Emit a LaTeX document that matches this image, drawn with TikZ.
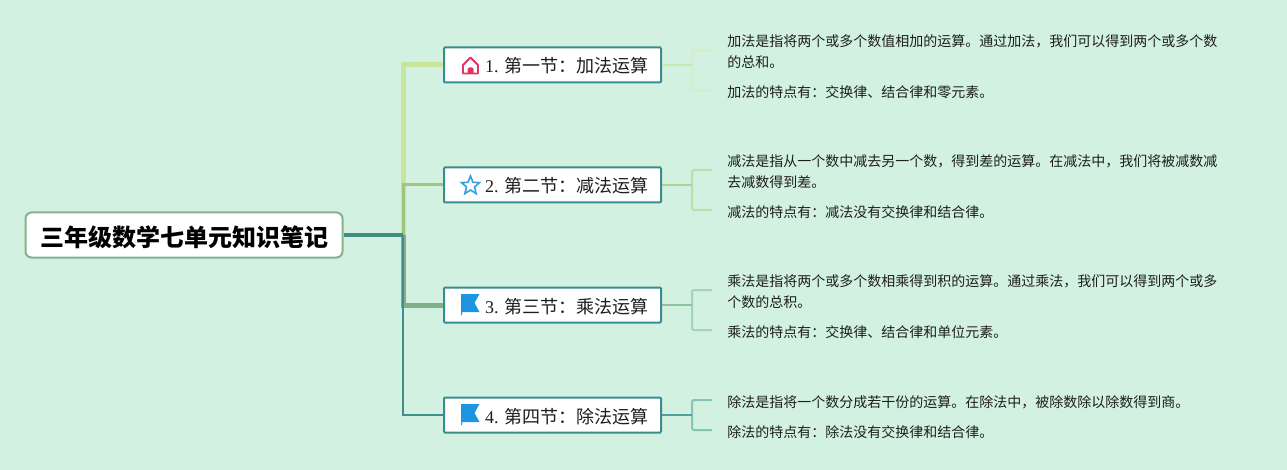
\documentclass[tikz,border=0pt]{standalone}
\usepackage{fontspec}
\setmainfont{Liberation Serif}
\newfontfamily\cjk{Noto Sans CJK SC}
\newdimen\pxu \pxu=0.75pt
\definecolor{bgc}{HTML}{D2F1E1}
\definecolor{ink}{HTML}{1E1E1E}
\definecolor{boxline}{HTML}{3D8C8C}
\definecolor{rootline}{HTML}{85B28B}
\definecolor{tealdark}{HTML}{3F8C80}
\definecolor{bA}{HTML}{C9E49C}
\definecolor{bB}{HTML}{A0C67E}
\definecolor{bC}{HTML}{7FB08A}
\definecolor{bD}{HTML}{3F8F8F}
\definecolor{hA}{HTML}{C9E7AE}
\definecolor{hB}{HTML}{ABD391}
\definecolor{hC}{HTML}{8FC29C}
\definecolor{hD}{HTML}{54A0A0}
\definecolor{sA}{HTML}{D6EEC3}
\definecolor{sB}{HTML}{BCE0A8}
\definecolor{sC}{HTML}{A4D3B5}
\definecolor{sD}{HTML}{85C4B7}
\definecolor{iconred}{HTML}{E0365F}
\definecolor{iconblue}{HTML}{3A9FE0}
\definecolor{flagblue}{HTML}{1C96E0}
\tikzset{
  x=0.75pt,y=-0.75pt,
  rootbox/.style={draw=rootline,line width=2\pxu,fill=white,rounded corners=6\pxu,
    minimum width=317\pxu,minimum height=45\pxu,inner sep=0pt,text=black,
    font=\cjk\bfseries\fontsize{18pt}{24pt}\selectfont},
  secbox/.style={draw=boxline,line width=2\pxu,fill=white,rounded corners=1\pxu,
    minimum height=35\pxu,text width=217\pxu,align=left,inner sep=0pt,text=ink,
    font=\fontsize{13.5pt}{18pt}\selectfont},
  detail/.style={anchor=west,align=left,inner xsep=15\pxu,inner ysep=0pt,text=ink,
    font=\cjk\fontsize{10.5pt}{15.75pt}\selectfont},
  bracket/.style={line width=2\pxu,rounded corners=2\pxu},
  stub/.style={line width=2\pxu},
}
\newcommand{\sectext}[2]{\hspace*{41\pxu}\raisebox{-8\pxu}[0pt][0pt]{#1.\hspace{6\pxu}{\cjk #2}}}
\begin{document}
\begin{tikzpicture}
\fill[bgc] (0,0) rectangle (1287,470);
\useasboundingbox (0,0) rectangle (1287,470);

\node[rootbox] (root) at (184,235) {\raisebox{-11\pxu}[0pt][0pt]{三年级数学七单元知识笔记}};
\node[secbox] (b1) at (552.5,65) {\sectext{1}{第一节：加法运算}};
\node[secbox] (b2) at (552.5,185) {\sectext{2}{第二节：减法运算}};
\node[secbox] (b3) at (552.5,305) {\sectext{3}{第三节：乘法运算}};
\node[secbox] (b4) at (552.5,415) {\sectext{4}{第四节：除法运算}};

\coordinate (trunk) at (403,235);
\draw[bA,line width=5\pxu] (trunk) |- (b1.west);
\draw[bB,line width=3\pxu] (trunk) |- (b2.west);
\draw[bC,line width=5\pxu] (trunk) |- (b3.west);
\draw[bD,line width=2\pxu] (trunk) |- (b4.west);
\draw[tealdark,line width=3.5\pxu] (root.east) -- (trunk);

\node[detail] (d11) at (712,52) {加法是指将两个或多个数值相加的运算。通过加法，我们可以得到两个或多个数\\的总和。};
\node[detail] (d12) at (712,92) {加法的特点有：交换律、结合律和零元素。};
\node[detail] (d21) at (712,172) {减法是指从一个数中减去另一个数，得到差的运算。在减法中，我们将被减数减\\去减数得到差。};
\node[detail] (d22) at (712,212) {减法的特点有：减法没有交换律和结合律。};
\node[detail] (d31) at (712,292) {乘法是指将两个或多个数相乘得到积的运算。通过乘法，我们可以得到两个或多\\个数的总积。};
\node[detail] (d32) at (712,332) {乘法的特点有：交换律、结合律和单位元素。};
\node[detail] (d41) at (712,402) {除法是指将一个数分成若干份的运算。在除法中，被除数除以除数得到商。};
\node[detail] (d42) at (712,432) {除法的特点有：除法没有交换律和结合律。};

\coordinate (s1) at (692,65);
\coordinate (s2) at (692,185);
\coordinate (s3) at (692,305);
\coordinate (s4) at (692,415);
\draw[sA,bracket] ([yshift=2\pxu]d11.west) -| (s1) |- ([yshift=2\pxu]d12.west);
\draw[sB,bracket] ([yshift=2\pxu]d21.west) -| (s2) |- ([yshift=2\pxu]d22.west);
\draw[sC,bracket] ([yshift=2\pxu]d31.west) -| (s3) |- ([yshift=2\pxu]d32.west);
\draw[sD,bracket] ([yshift=2\pxu]d41.west) -| (s4) |- ([yshift=2\pxu]d42.west);
\draw[hA,stub] (b1.east) -- (s1);
\draw[hB,stub] (b2.east) -- (s2);
\draw[hC,stub] (b3.east) -- (s3);
\draw[hD,stub] (b4.east) -- (s4);

% house icon
\draw[iconred,line width=1.8\pxu,line join=round] (463,73.5) -- (463,65) -- (470.5,57.5) -- (478,65) -- (478,73.5) -- cycle;
\fill[iconred,rounded corners=1.5\pxu] (467.5,74) -- (467.5,67.5) -- (473.5,67.5) -- (473.5,74) -- cycle;
% star icon
\draw[iconblue,line width=1.6\pxu,line join=miter]
  (470.5,176) -- (473,182.3) -- (479.5,182.6) -- (474.5,187) -- (476.2,193.7) -- (470.5,190) -- (464.8,193.7) -- (466.5,187) -- (461.5,182.6) -- (468,182.3) -- cycle;
% flag icons
\foreach \yy in {294,404}{
  \fill[flagblue] (461,\yy) -- (479.5,\yy) -- (474.5,\yy+9) -- (479.5,\yy+18) -- (462,\yy+18) -- (462,\yy+21) -- (461,\yy+21) -- cycle;
}
\end{tikzpicture}
\end{document}
